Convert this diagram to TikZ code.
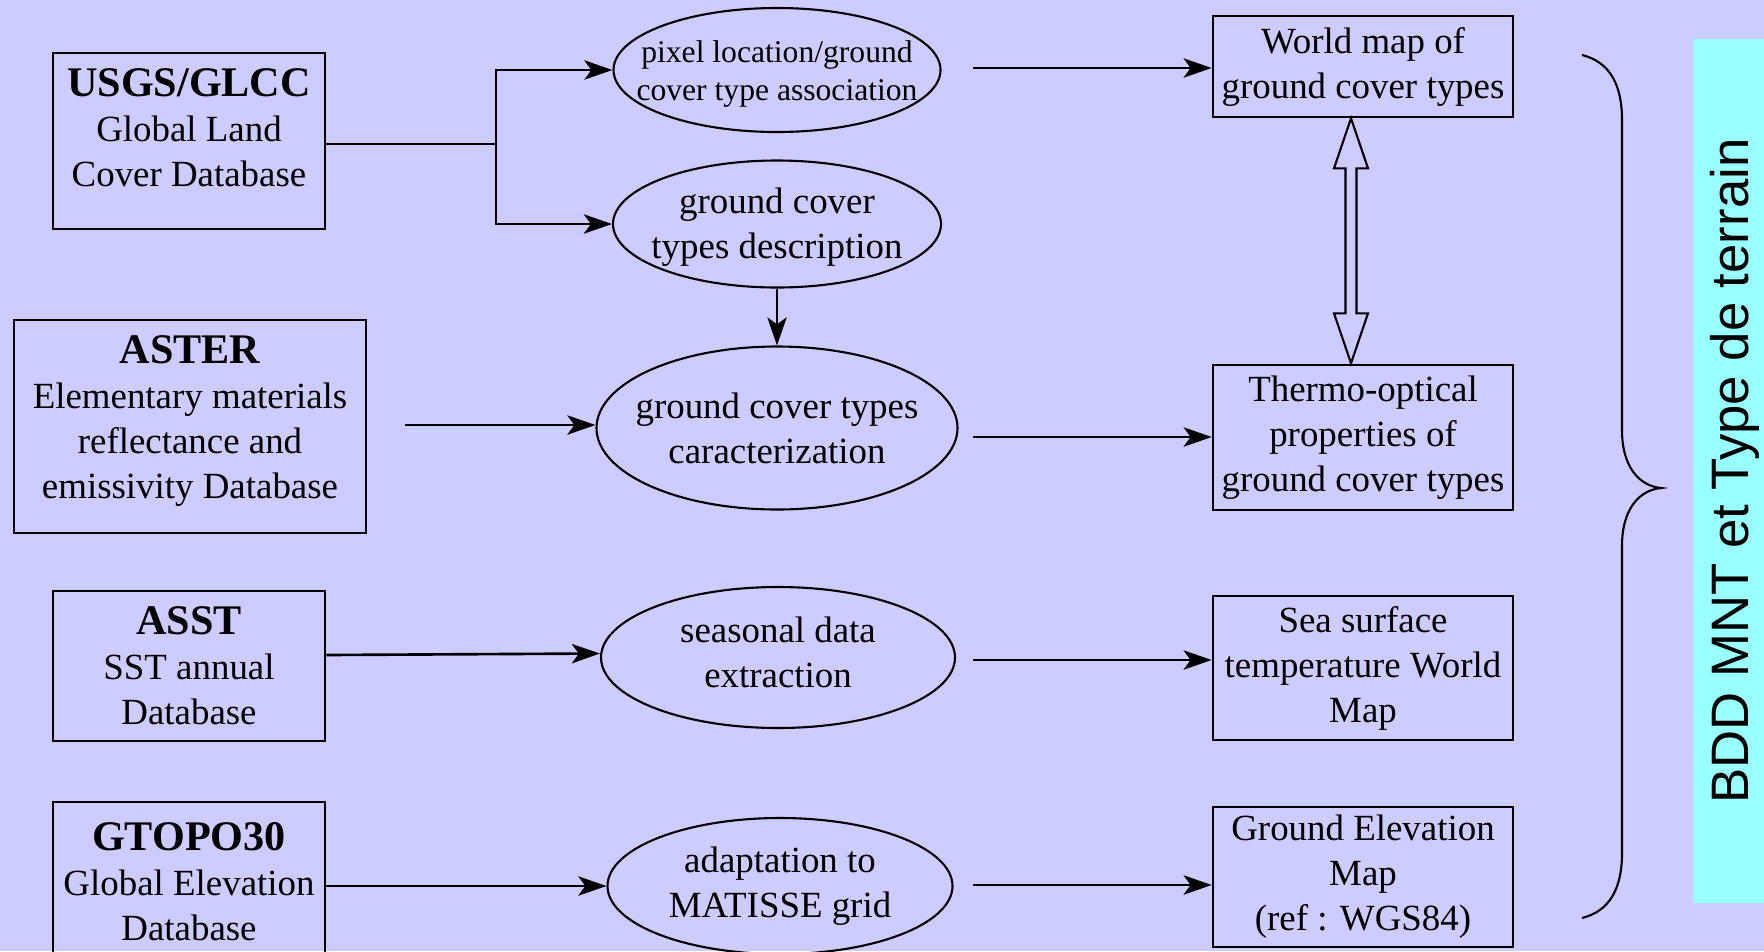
\documentclass[tikz,border=0pt]{standalone}
\usepackage{fontspec}
\setmainfont{Liberation Serif}
\setsansfont{Liberation Sans}
\usepackage{xcolor}
\usepackage{tikz}
\usetikzlibrary{positioning}
\usetikzlibrary{shapes.geometric}
\usetikzlibrary{arrows.meta}
\definecolor{bgblue}{HTML}{CCCCFF}
\definecolor{bddcyan}{HTML}{99FFFF}
\newlength{\pix}
\setlength{\pix}{0.02cm}

\begin{document}
\begin{tikzpicture}[
	x=0.02cm, y=-0.02cm,
	line width=1.5pt,
	font=\fontsize{21}{25.6}\selectfont
]
\tikzset{
    myrect/.style = {rectangle, draw=black, align=center, inner sep=0pt},
    myellipse/.style = {ellipse, draw=black, align=center, inner xsep=-40\pix, inner ysep=0pt, line width=1.2pt},
    myarrow/.style = {-{Stealth[length=16pt,width=11pt,inset=4pt]}}
}
\useasboundingbox (0,0) rectangle (1764,951);
\fill[bgblue] (0,0) rectangle (1764,951);
\fill[bddcyan] (1693,39) rectangle (1764,903);

% sources
\node[myrect,minimum width=272\pix,minimum height=176\pix] (usgs) at (189,141)
    {{\bfseries\fontsize{24}{27}\selectfont USGS/GLCC}\\Global Land\\Cover Database\rule[-15pt]{0pt}{0pt}};
\node[myrect,minimum width=352\pix,minimum height=213\pix] (aster) at (190,426.5)
    {{\bfseries\fontsize{24}{27}\selectfont ASTER}\\Elementary materials\\reflectance and\\emissivity Database\rule[-11pt]{0pt}{0pt}};
\node[myrect,minimum width=272\pix,minimum height=150\pix] (asst) at (189,666)
    {{\bfseries\fontsize{24}{27}\selectfont ASST}\\SST annual\\Database};
\node[myrect,minimum width=272\pix,minimum height=160\pix] (gtopo) at (189,882)
    {{\bfseries\fontsize{24}{27}\selectfont GTOPO30}\\Global Elevation\\Database};

% processing
\node[myellipse,minimum width=327\pix,minimum height=124\pix,font=\fontsize{18}{22}\selectfont] (pixloc) at (777,70)
    {\rule{0pt}{16.8pt}pixel location/ground\\cover type association};
\node[myellipse,minimum width=328\pix,minimum height=127\pix] (gcdesc) at (777,224)
    {\rule{0pt}{17.7pt}ground cover\\types description};
\node[myellipse,minimum width=361\pix,minimum height=163\pix] (gccar) at (777,428)
    {ground cover types\\caracterization};
\node[myellipse,minimum width=354\pix,minimum height=141\pix] (season) at (778,657.5)
    {seasonal data\\extraction\rule[-6.3pt]{0pt}{0pt}};
\node[myellipse,minimum width=345\pix,minimum height=136\pix] (adapt) at (780,886)
    {adaptation to\\MATISSE grid};

% products
\node[myrect,minimum width=300\pix,minimum height=101\pix] (world) at (1363,66.5)
    {World map of\\ground cover types};
\node[myrect,minimum width=300\pix,minimum height=145\pix] (thermo) at (1363,437.5)
    {Thermo-optical\\properties of\\ground cover types};
\node[myrect,minimum width=300\pix,minimum height=144\pix] (sea) at (1363,668)
    {Sea surface\\temperature World\\Map};
\node[myrect,minimum width=300\pix,minimum height=140\pix] (elev) at (1363,877)
    {Ground Elevation\\Map\\(ref : WGS84)};

\node[rotate=90,font=\sffamily\fontsize{30}{36}\selectfont] (bdd) at (1735,471) {BDD MNT et Type de terrain};

% connectors
\coordinate (split) at (496,144);
\coordinate (asterout) at (405,425);
\coordinate (out1) at (973,68);
\coordinate (out2) at (973,437);
\coordinate (out3) at (973,660);
\coordinate (out4) at (973,885);
\draw (usgs.east |- split) -- (split);
\draw[myarrow] (split) |- (pixloc);
\draw[myarrow] (split) |- (gcdesc);
\draw[myarrow,line width=1.2pt] (gcdesc) -- (gccar);
\draw[myarrow] (asterout) -- (asterout -| gccar.west);
\draw[myarrow] ([yshift=11\pix]asst.east) -- ([yshift=4\pix]season.west);
\draw[myarrow] (gtopo.east |- adapt) -- (adapt);
\draw[myarrow] (out1) -- (out1 -| world.west);
\draw[myarrow] (out2) -- (out2 -| thermo.west);
\draw[myarrow] (out3) -- (out3 -| sea.west);
\draw[myarrow] (out4) -- (out4 -| elev.west);

% double arrow
\draw[line width=1.2pt,fill=bgblue] ([xshift=-12\pix]world.south) -- ++(17,50) -- ++(-11.5,0) -- ++(0,145)
    -- ++(11.5,0) -- ++(-17,50) -- ++(-17,-50) -- ++(11.5,0) -- ++(0,-145) -- ++(-11.5,0) -- cycle;

% brace
\draw[line width=1.2pt] (1582,55) .. controls (1610,62) and (1622,85) .. (1622,120) -- (1622,430)
    .. controls (1622,468) and (1640,486) .. (1661,488)
    .. controls (1640,490) and (1622,508) .. (1622,546) -- (1622,853)
    .. controls (1622,888) and (1610,911) .. (1582,918);
\end{tikzpicture}
\end{document}
